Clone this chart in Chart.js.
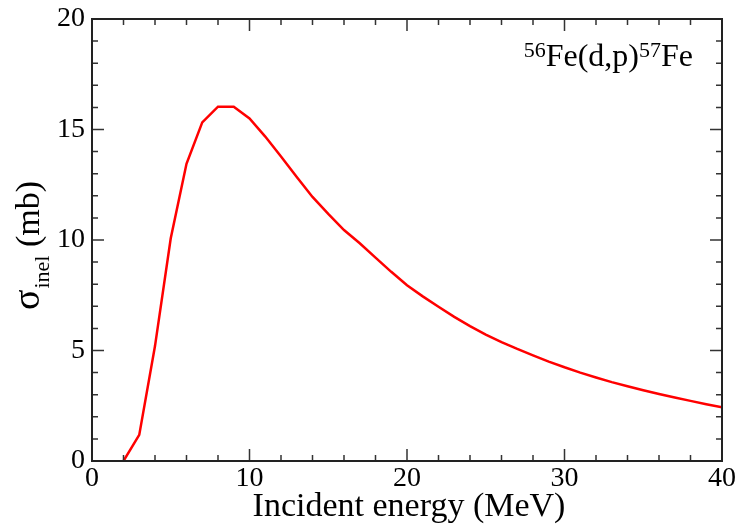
<!DOCTYPE html>
<html>
<head>
<meta charset="utf-8">
<script src="https://cdn.jsdelivr.net/npm/chart.js@4"></script>
<style>
  html, body { margin: 0; padding: 0; background: #fff; }
  #wrap { width: 738px; height: 525px; }
</style>
</head>
<body>
<div id="wrap"><canvas id="chart" width="738" height="525"></canvas></div>
<script>
// incident energy (MeV) and inelastic cross section (mb)
const energy = [2, 3, 4, 5, 6, 7, 8, 9, 10, 11, 12, 13, 14, 15, 16, 17, 18, 19, 20,
    21, 22, 23, 24, 25, 26, 27, 28, 29, 30, 31, 32, 33, 34, 35, 36, 37, 38, 39, 40];
const sigma = [0, 1.18, 5.2, 10.08, 13.45, 15.32, 16.03, 16.03, 15.5, 14.68, 13.78, 12.85, 11.95, 11.18, 10.45, 9.85, 9.2, 8.56, 7.95,
    7.45, 6.98, 6.52, 6.1, 5.72, 5.38, 5.07, 4.78, 4.5, 4.24, 4.0, 3.78, 3.57, 3.38, 3.2, 3.03, 2.87, 2.72, 2.57, 2.43];

const xTicks = [0, 10, 20, 30, 40];
const yTicks = [0, 5, 10, 15, 20];

const serif = "'Liberation Serif', 'DejaVu Serif', serif";

// ticks pointing inward on all four sides, plus the frame
const frameTicks = {
    id: 'frameTicks',
    afterDraw(chart) {
        const { ctx, chartArea: a, scales: { x, y } } = chart;
        ctx.save();
        ctx.strokeStyle = '#333';
        ctx.lineWidth = 1.5;
        ctx.beginPath();
        for (let v = 0; v <= 40; v += 2) {
            const px = x.getPixelForValue(v);
            const len = v % 10 === 0 ? 12 : 6;
            ctx.moveTo(px, a.bottom); ctx.lineTo(px, a.bottom - len);
            ctx.moveTo(px, a.top); ctx.lineTo(px, a.top + len);
        }
        for (let v = 0; v <= 20; v += 1) {
            const py = y.getPixelForValue(v);
            const len = v % 5 === 0 ? 12 : 6;
            ctx.moveTo(a.left, py); ctx.lineTo(a.left + len, py);
            ctx.moveTo(a.right, py); ctx.lineTo(a.right - len, py);
        }
        ctx.stroke();
        ctx.strokeStyle = '#222';
        ctx.lineWidth = 2;
        ctx.strokeRect(a.left, a.top, a.right - a.left, a.bottom - a.top);
        ctx.restore();
    }
};

// axis titles (y one has a subscript) and the reaction label with superscripts
const labels = {
    id: 'labels',
    afterDraw(chart) {
        const { ctx, chartArea: a } = chart;
        ctx.save();
        ctx.fillStyle = '#000';
        ctx.textBaseline = 'alphabetic';

        ctx.textAlign = 'center';
        ctx.font = '34px ' + serif;
        ctx.fillText('Incident energy (MeV)', 409, 516);

        ctx.textAlign = 'left';
        // σ_inel (mb)
        ctx.save();
        ctx.translate(39, 310);
        ctx.rotate(-Math.PI / 2);
        ctx.font = '38px ' + serif;
        ctx.fillText('σ', 0, 0);
        let w = ctx.measureText('σ').width;
        ctx.font = '22px ' + serif;
        ctx.fillText('inel', w + 1, 10);
        w += 1 + ctx.measureText('inel').width;
        ctx.font = '34px ' + serif;
        ctx.fillText(' (mb)', w, 0);
        ctx.restore();

        // 56Fe(d,p)57Fe
        const big = '32px ' + serif, small = '22px ' + serif;
        const parts = [['56', small, -9], ['Fe(d,p)', big, 0], ['57', small, -9], ['Fe', big, 0]];
        let total = 0;
        parts.forEach(p => { ctx.font = p[1]; total += ctx.measureText(p[0]).width; });
        let px = a.right - 29 - total;
        const base = a.top + 47;
        parts.forEach(p => {
            ctx.font = p[1];
            ctx.fillText(p[0], px, base + p[2]);
            px += ctx.measureText(p[0]).width;
        });
        ctx.restore();
    }
};

new Chart(document.getElementById('chart').getContext('2d'), {
    type: 'line',
    data: {
        datasets: [{
            data: energy.map((e, i) => ({ x: e, y: sigma[i] })),
            borderColor: 'rgb(255, 0, 0)',
            borderWidth: 2.5,
            pointRadius: 0,
            tension: 0,
            fill: false
        }]
    },
    options: {
        responsive: false,
        animation: false,
        layout: { padding: { top: 19, right: 16, left: 0, bottom: 0 } },
        plugins: { legend: { display: false }, tooltip: { enabled: false } },
        scales: {
            x: {
                type: 'linear',
                min: 0, max: 40,
                grid: { display: false, drawTicks: false },
                border: { display: false },
                afterBuildTicks: s => { s.ticks = xTicks.map(v => ({ value: v })); },
                afterFit: s => { s.height = 64; s.paddingLeft = 0; s.paddingRight = 0; },
                ticks: { color: '#000', padding: 1, maxRotation: 0, font: { family: serif, size: 28 } }
            },
            y: {
                min: 0, max: 20,
                grid: { display: false, drawTicks: false },
                border: { display: false },
                afterBuildTicks: s => { s.ticks = yTicks.map(v => ({ value: v })); },
                afterFit: s => { s.width = 92; s.paddingTop = 0; s.paddingBottom = 0; },
                ticks: { color: '#000', padding: 7, font: { family: serif, size: 28 } }
            }
        }
    },
    plugins: [frameTicks, labels]
});
</script>
</body>
</html>
